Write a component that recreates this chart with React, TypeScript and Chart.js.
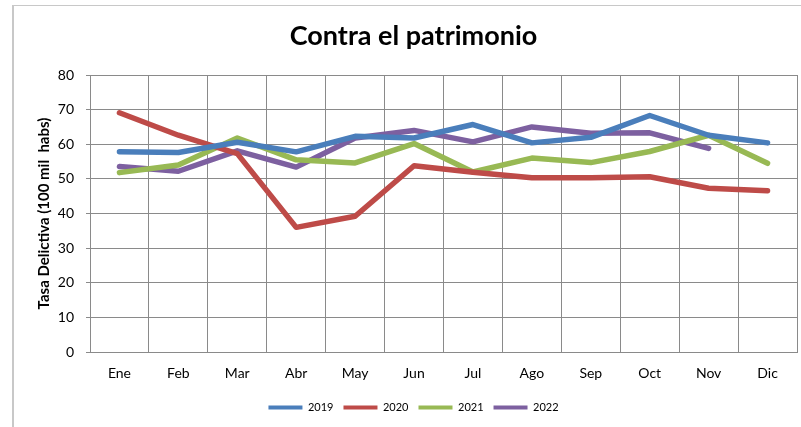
import React, { useEffect, useRef } from "react";
import { Chart, registerables } from "chart.js";

Chart.register(...registerables);

const months = ["Ene", "Feb", "Mar", "Abr", "May", "Jun", "Jul", "Ago", "Sep", "Oct", "Nov", "Dic"];
const s2019 = [57.8, 57.6, 60.6, 57.8, 62.3, 61.8, 65.7, 60.4, 62.0, 68.3, 62.6, 60.4];
const s2020 = [69.1, 62.6, 57.3, 36.0, 39.2, 53.8, 51.9, 50.3, 50.3, 50.6, 47.3, 46.6];
const s2021 = [51.8, 54.0, 61.8, 55.5, 54.6, 60.2, 52.0, 56.0, 54.7, 57.9, 62.6, 54.5];
const s2022 = [53.6, 52.2, 58.1, 53.4, 61.8, 64.0, 60.7, 65.0, 63.2, 63.3, 58.8, null];
const yTicks = [0, 10, 20, 30, 40, 50, 60, 70, 80];

const seriesNames = ["2019", "2020", "2021", "2022"];
const seriesColors = ["#4A7EBB", "#BE4B48", "#98B954", "#7D60A0"];

const FONT = "Lato, 'Open Sans', sans-serif";

export default function App() {
  const ref = useRef<HTMLCanvasElement | null>(null);

  useEffect(() => {
    if (!ref.current) return;
    const values = [s2019, s2020, s2021, s2022];
    const chart = new Chart(ref.current, {
      type: "line",
      data: {
        labels: months,
        datasets: values.map((v, i) => ({
          label: seriesNames[i],
          data: v,
          borderColor: seriesColors[i],
          backgroundColor: seriesColors[i],
          borderWidth: 5.5,
          pointRadius: 0,
          pointHoverRadius: 0,
          tension: 0,
          borderCapStyle: "round" as const,
          borderJoinStyle: "round" as const,
          spanGaps: false,
        })),
      },
      options: {
        animation: false,
        responsive: false,
        maintainAspectRatio: false,
        layout: { padding: { left: 30, right: 4, top: 0, bottom: 4 } },
        plugins: {
          title: {
            display: true,
            text: "Contra el patrimonio",
            color: "#000",
            font: { family: FONT, size: 27, weight: "bold" },
            padding: { top: 20, bottom: 22.6 },
          },
          legend: {
            position: "bottom",
            labels: {
              color: "#000",
              font: { family: FONT, size: 11 },
              boxWidth: 34,
              boxHeight: 4,
              padding: 10,
              useBorderRadius: true,
              borderRadius: 2,
              generateLabels: () =>
                seriesNames.map((n, i) => ({
                  text: n,
                  fillStyle: seriesColors[i],
                  strokeStyle: seriesColors[i],
                  lineWidth: 0,
                  hidden: false,
                  datasetIndex: i,
                  fontColor: "#000",
                })),
            },
          },
          tooltip: { enabled: false },
        },
        scales: {
          x: {
            type: "category",
            offset: true,
            grid: {
              offset: true,
              color: "#8a8a8a",
              lineWidth: 1,
              drawTicks: false,
            },
            border: { color: "#8a8a8a", width: 1 },
            ticks: {
              color: "#000",
              font: { family: FONT, size: 14 },
              padding: 13,
              maxRotation: 0,
              autoSkip: false,
            },
            afterFit: (scale: any) => {
              scale.height = 40;
            },
          },
          y: {
            min: 0,
            max: 80,
            afterBuildTicks: (scale: any) => {
              scale.ticks = yTicks.map((v) => ({ value: v }));
            },
            grid: {
              color: "#8a8a8a",
              lineWidth: 1,
              drawTicks: true,
              tickLength: 4,
            },
            border: { color: "#8a8a8a", width: 1 },
            ticks: {
              color: "#000",
              font: { family: FONT, size: 14 },
              padding: 12,
            },
            title: {
              display: true,
              text: "Tasa Delictiva (100 mil  habs)",
              color: "#000",
              font: { family: FONT, size: 15, weight: "bold" },
              padding: { top: 5, bottom: 0 },
            },
            afterFit: (scale: any) => {
              scale.width = 60;
            },
          },
        },
      },
    });
    return () => chart.destroy();
  }, []);

  return (
    <div style={{ position: "fixed", left: 0, top: 0, width: 801, height: 427, background: "#fff", overflow: "hidden" }}>
      <div
        style={{
          position: "absolute",
          left: 12,
          top: 5,
          width: 820,
          height: 440,
          borderLeft: "2px solid #c8c8c8",
          borderTop: "1px solid #c8c8c8",
        }}
      />
      <canvas ref={ref} width={801} height={427} style={{ position: "absolute", left: 0, top: 0, width: 801, height: 427 }} />
    </div>
  );
}
